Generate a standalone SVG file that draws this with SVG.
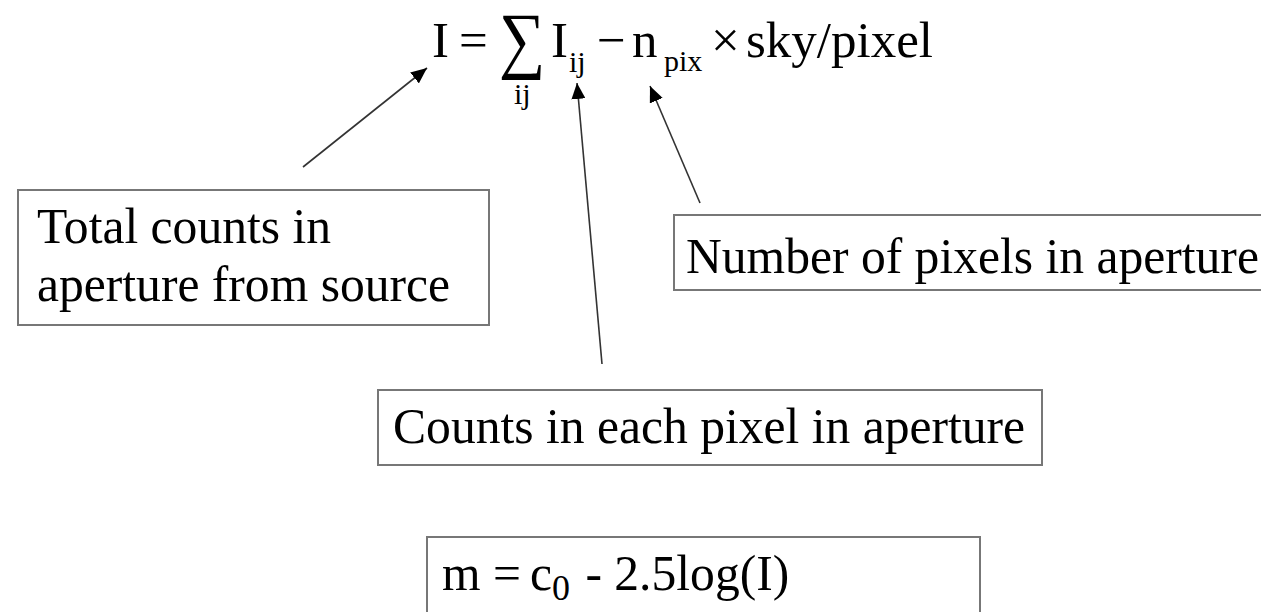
<svg xmlns="http://www.w3.org/2000/svg" width="1261" height="612" viewBox="0 0 1261 612">
<style>
  text { font-family: "Liberation Serif", "Times New Roman", serif; fill: #000; }
  .lbl { font-size: 49.6px; }
  .eq { font-size: 51px; }
  .sub { font-size: 30px; }
  .box { fill: #fff; stroke: #777; stroke-width: 2; }
  .conn { stroke: #333; stroke-width: 1.6; fill: none; marker-end: url(#ah); }
</style>
<defs>
  <marker id="ah" viewBox="0 0 16 14" refX="16" refY="7" markerWidth="16" markerHeight="14" markerUnits="userSpaceOnUse" orient="auto">
    <path d="M0,0 L16,7 L0,14 z" fill="#000"/>
  </marker>
</defs>
<rect width="1261" height="612" fill="#fff"/>
<g id="formula">
  <text class="eq" x="432" y="57">I</text>
  <text class="eq" x="459" y="57">=</text>
  <text transform="translate(499,64) scale(0.88,1)" style="font-size:74px">∑</text>
  <text class="sub" x="514" y="104">ij</text>
  <text class="eq" x="551" y="57">I</text>
  <text class="sub" x="569" y="72">ij</text>
  <text class="eq" x="597" y="57">−</text>
  <text class="eq" x="632" y="57">n</text>
  <text class="sub" x="664" y="71">pix</text>
  <text class="eq" x="711" y="57">×</text>
  <text class="eq" x="746" y="57">sky/pixel</text>
</g>
<g id="connectors">
  <line class="conn" x1="303" y1="167" x2="427" y2="68"/>
  <line class="conn" x1="602" y1="364" x2="577" y2="83"/>
  <line class="conn" x1="700" y1="203" x2="650" y2="86"/>
</g>
<g id="node-total">
  <rect class="box" x="18" y="190" width="471" height="135"/>
  <text class="lbl" x="37" y="243">Total counts in</text>
  <text class="lbl" x="37" y="301">aperture from source</text>
</g>
<g id="node-npix">
  <rect class="box" x="674" y="215" width="600" height="75"/>
  <text class="lbl" x="686" y="273">Number of pixels in aperture</text>
</g>
<g id="node-counts">
  <rect class="box" x="378" y="390" width="664" height="75"/>
  <text class="lbl" x="393" y="443">Counts in each pixel in aperture</text>
</g>
<g id="node-mag">
  <rect class="box" x="427" y="537" width="553" height="90"/>
  <text class="lbl" x="442" y="590">m =<tspan x="530">c</tspan><tspan x="552" dy="10" style="font-size:36px">0</tspan><tspan x="573" dy="-10"> - 2.5log(I)</tspan></text>
</g>
</svg>
